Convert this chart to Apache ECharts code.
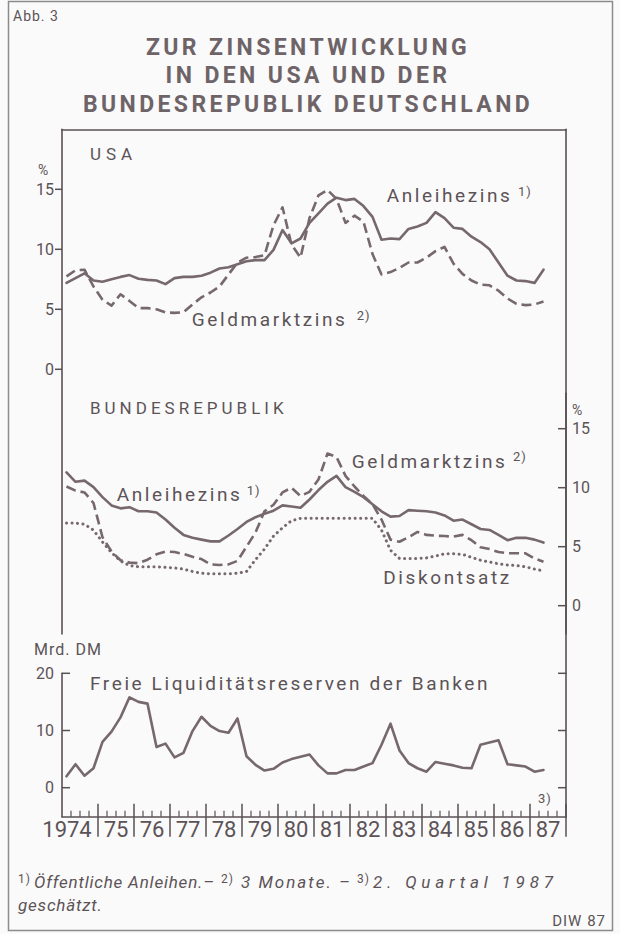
<!DOCTYPE html>
<html><head><meta charset="utf-8">
<script src="https://cdn.jsdelivr.net/npm/echarts@6/dist/echarts.min.js"></script>
<style>
html,body{margin:0;padding:0;background:#fafafa;}
#chart{width:620px;height:934px;}
#chart text[style*="xlsa"],#chart text[font-family*="xlsa"]{letter-spacing:1px;}
#chart text[style*="xlsb"],#chart text[font-family*="xlsb"]{letter-spacing:2.6px;}
#chart text[style*="xlsc"],#chart text[font-family*="xlsc"]{letter-spacing:4px;}
#chart text[style*="xlsd"],#chart text[font-family*="xlsd"]{letter-spacing:5px;}
#chart text[style*="xlst"],#chart text[font-family*="xlst"]{letter-spacing:3.4px;}
#chart text[style*="xlse"],#chart text[font-family*="xlse"]{letter-spacing:0.8px;}
#chart text[style*="xlsf"],#chart text[font-family*="xlsf"]{letter-spacing:2px;}
#chart text[style*="xlsg"],#chart text[font-family*="xlsg"]{letter-spacing:4.8px;}
</style>
</head><body><div id="chart"></div>
<script>
// ---------- data (quarterly, 1974 Q1 – 1987 Q2) ----------
const years = ['1974','75','76','77','78','79','80','81','82','83','84','85','86','87'];
const usaBond = [7.2, 7.6, 8.0, 7.4, 7.3, 7.5, 7.7, 7.85, 7.55, 7.45, 7.4, 7.1, 7.6, 7.7, 7.7, 7.8, 8.05, 8.4, 8.5, 8.75, 9.0, 9.1, 9.1, 9.95, 11.6, 10.5, 10.9, 12.2, 13.0, 13.8, 14.3, 14.1, 14.2, 13.6, 12.7, 10.8, 10.9, 10.85, 11.7, 11.9, 12.2, 13.1, 12.6, 11.8, 11.7, 11.05, 10.6, 10.0, 8.9, 7.8, 7.4, 7.35, 7.2, 8.3];
const usaMoney = [7.75, 8.25, 8.3, 6.9, 5.8, 5.3, 6.25, 5.7, 5.1, 5.1, 5.0, 4.75, 4.7, 4.75, 5.4, 6.0, 6.4, 6.9, 7.9, 8.9, 9.3, 9.35, 9.5, 12.0, 13.5, 10.4, 9.3, 12.6, 14.5, 14.95, 14.2, 12.2, 12.8, 12.3, 9.6, 7.9, 8.1, 8.45, 8.9, 8.9, 9.3, 9.85, 10.2, 8.8, 7.95, 7.4, 7.05, 7.0, 6.55, 5.9, 5.45, 5.35, 5.4, 5.65];
const brdBond = [11.3, 10.5, 10.6, 10.05, 9.2, 8.5, 8.25, 8.35, 8.0, 8.0, 7.9, 7.3, 6.6, 6.0, 5.75, 5.6, 5.45, 5.45, 5.95, 6.5, 7.1, 7.5, 7.8, 8.05, 8.5, 8.4, 8.3, 9.0, 9.8, 10.5, 11.0, 10.05, 9.65, 9.2, 8.6, 8.0, 7.55, 7.6, 8.1, 8.05, 8.0, 7.9, 7.65, 7.2, 7.3, 6.9, 6.5, 6.42, 6.0, 5.55, 5.75, 5.75, 5.6, 5.35];
const brdMoney = [10.1, 9.75, 9.6, 8.7, 5.8, 4.6, 3.85, 3.65, 3.6, 3.9, 4.35, 4.58, 4.55, 4.38, 4.15, 3.95, 3.5, 3.45, 3.5, 3.8, 5.0, 6.2, 8.0, 8.55, 9.6, 10.0, 9.3, 9.65, 10.7, 12.9, 12.6, 11.0, 10.1, 9.3, 8.6, 7.3, 5.6, 5.42, 5.8, 6.25, 6.0, 5.93, 5.9, 5.85, 6.0, 5.55, 4.95, 4.8, 4.55, 4.44, 4.44, 4.44, 4.0, 3.73];
const brdDiscount = [7.0, 7.0, 6.9, 6.4, 5.4, 4.5, 3.8, 3.4, 3.3, 3.3, 3.3, 3.25, 3.2, 3.1, 2.9, 2.75, 2.7, 2.7, 2.7, 2.75, 2.9, 3.9, 4.8, 5.9, 6.6, 7.2, 7.4, 7.4, 7.4, 7.4, 7.4, 7.4, 7.4, 7.4, 7.4, 6.4, 4.7, 4.0, 4.0, 4.0, 4.05, 4.2, 4.4, 4.4, 4.35, 4.1, 3.85, 3.7, 3.55, 3.45, 3.4, 3.3, 3.1, 2.95];
const liquidity = [2.0, 4.1, 2.1, 3.4, 8.0, 9.8, 12.3, 15.8, 15.0, 14.7, 7.1, 7.7, 5.3, 6.1, 9.9, 12.4, 10.8, 9.9, 9.6, 12.1, 5.5, 4.0, 3.0, 3.3, 4.4, 5.0, 5.4, 5.8, 3.9, 2.5, 2.5, 3.1, 3.1, 3.7, 4.3, 7.5, 11.2, 6.5, 4.3, 3.4, 2.8, 4.5, 4.2, 3.9, 3.5, 3.4, 7.5, 7.9, 8.3, 4.1, 3.9, 3.7, 2.8, 3.1];
const usaTicks = [0, 5, 10, 15];
const brdTicks = [0, 5, 10, 15];
const liqTicks = [0, 10, 20];

// quarter categories (4 per year)
const quarters = [];
years.forEach(function (y, i) { for (let q = 1; q <= 4; q++) quarters.push((1974 + i) + '/' + q); });

// ---------- layout & styles ----------
const LINE = '#76686d', AXIS = '#5a5155', TEXT = '#5c5357', TITLE = '#6e6468';
const F = 'Roboto';
const USA_RANGE = [-22.06, 20], BRD_RANGE = [-5.73, 18], LIQ_RANGE = [-5.07, 20];
const GRIDS = [
  { left: 62, right: 54, top: 129.3, height: 504.7 },   // USA
  { left: 62, right: 54, top: 393.3, height: 280 },     // Bundesrepublik
  { left: 62, right: 54, top: 673.3, height: 143.4 }    // Liquidität
];
const PLOT_W = 620 - 62 - 54;
function fam(cls) { return cls ? F + ', ' + cls : F; }
function txt(t, x, y, size, cls, extra) {
  return { type: 'text', x: x, y: y, silent: true,
    style: Object.assign({ text: t, fill: TEXT, fontSize: size, fontFamily: fam(cls),
      textAlign: 'left', textVerticalAlign: 'middle', verticalAlign: 'middle' }, extra || {}) };
}
const axLine = { show: true, onZero: false, lineStyle: { color: AXIS, width: 1.6 } };
const labelBase = { color: TEXT, fontSize: 16, fontFamily: F };
const hidden = { show: false };

const solid = { color: LINE, width: 2.6, join: 'round', cap: 'round' };
const dashed = { color: LINE, width: 2.6, type: [10, 5], join: 'round' };
const dotted = { color: LINE, width: 3, type: [0.1, 5.4], cap: 'round', join: 'round' };
function line(name, data, xi, yi, ls) {
  return { name: name, type: 'line', data: data, xAxisIndex: xi, yAxisIndex: yi,
    showSymbol: false, symbol: 'none', silent: true, lineStyle: ls, z: 3 };
}

const chart = echarts.init(document.getElementById('chart'), null, { renderer: 'svg' });
chart.setOption({
  animation: false,
  backgroundColor: '#fafafa',
  grid: GRIDS,
  xAxis: [
    { gridIndex: 0, type: 'category', data: quarters, position: 'top', boundaryGap: true,
      axisLine: axLine, axisTick: hidden, axisLabel: hidden, splitLine: hidden },
    { gridIndex: 1, type: 'category', data: quarters, boundaryGap: true, show: false },
    { gridIndex: 2, type: 'category', data: quarters, position: 'bottom', boundaryGap: true,
      axisLine: axLine, axisTick: hidden, axisLabel: hidden, splitLine: hidden },
    { gridIndex: 2, type: 'category', data: years, position: 'bottom', boundaryGap: true,
      axisLine: { show: false, onZero: false }, axisTick: hidden, splitLine: hidden,
      axisLabel: { show: true, interval: 0, margin: 2, color: TEXT, fontSize: 22, fontFamily: F,
        formatter: function (v, i) { return i === 0 ? '{a|' + v + '}' : v; },
        rich: { a: { padding: [0, 26, 0, 0], color: TEXT, fontSize: 22, fontFamily: F } } } }
  ],
  yAxis: [
    { gridIndex: 0, type: 'value', position: 'left', min: USA_RANGE[0], max: USA_RANGE[1], splitLine: hidden,
      axisLine: axLine, axisTick: hidden,
      axisLabel: Object.assign({ customValues: usaTicks, margin: 8 }, labelBase) },
    { gridIndex: 0, type: 'value', position: 'right', min: USA_RANGE[0], max: USA_RANGE[1], splitLine: hidden,
      axisLine: axLine, axisTick: hidden, axisLabel: hidden },
    { gridIndex: 1, type: 'value', position: 'right', min: BRD_RANGE[0], max: BRD_RANGE[1], splitLine: hidden,
      axisLine: axLine, axisTick: hidden,
      axisLabel: Object.assign({ customValues: brdTicks, margin: 6 }, labelBase) },
    { gridIndex: 2, type: 'value', position: 'left', min: LIQ_RANGE[0], max: LIQ_RANGE[1], splitLine: hidden,
      axisLine: axLine, axisTick: hidden,
      axisLabel: Object.assign({ customValues: liqTicks, margin: 8 }, labelBase) },
    { gridIndex: 2, type: 'value', position: 'right', min: LIQ_RANGE[0], max: LIQ_RANGE[1], splitLine: hidden,
      axisLine: axLine, axisTick: hidden, axisLabel: hidden }
  ],
  series: [
    line('USA Anleihezins', usaBond, 0, 0, solid),
    line('USA Geldmarktzins', usaMoney, 0, 0, dashed),
    line('BRD Anleihezins', brdBond, 1, 2, solid),
    line('BRD Geldmarktzins', brdMoney, 1, 2, dashed),
    line('BRD Diskontsatz', brdDiscount, 1, 2, dotted),
    line('Freie Liquiditätsreserven', liquidity, 2, 3, solid)
  ]
});

// ---------- tick marks (axis scale first, grid layout as fallback) ----------
function num(v) { return typeof v === 'number' && isFinite(v); }
function yPix(axisIndex, v, g, range) {
  let c;
  try { c = chart.convertToPixel({ yAxisIndex: axisIndex }, v); } catch (e) { c = NaN; }
  return num(c) ? c : g.top + g.height * (range[1] - v) / (range[1] - range[0]);
}
const qW = PLOT_W / quarters.length;
function xBound(k) {   // left boundary of quarter k (k may equal quarters.length)
  let c;
  try { c = chart.convertToPixel({ xAxisIndex: 2 }, Math.min(k, quarters.length - 1)); } catch (e) { c = NaN; }
  if (num(c)) return k >= quarters.length ? c + qW / 2 : c - qW / 2;
  return GRIDS[2].left + k * qW;
}
const leftX = xBound(0), rightX = xBound(quarters.length);
const axisY = yPix(3, LIQ_RANGE[0], GRIDS[2], LIQ_RANGE);

const ticks = [];
function seg(x1, y1, x2, y2, w) {
  if (![x1, y1, x2, y2].every(num)) return;
  ticks.push({ type: 'line', silent: true, z: 10,
    shape: { x1: x1, y1: y1, x2: x2, y2: y2 }, style: { stroke: AXIS, lineWidth: w } });
}
years.forEach(function (y, i) {               // year separators at the end of each year
  const x = xBound((i + 1) * 4);
  seg(x, axisY - 13, x, axisY + 20, 1.5);
});
quarters.forEach(function (q, k) {            // quarter ticks
  if (k === 0 || k % 4 === 0) return;
  const x = xBound(k);
  seg(x, axisY - 6, x, axisY, 1.2);
});
usaTicks.forEach(function (v) { const y = yPix(0, v, GRIDS[0], USA_RANGE); seg(leftX - 7, y, leftX, y, 1.5); });
brdTicks.forEach(function (v) { const y = yPix(2, v, GRIDS[1], BRD_RANGE); seg(rightX - 8, y, rightX, y, 1.5); });
liqTicks.forEach(function (v) {
  const y = yPix(3, v, GRIDS[2], LIQ_RANGE);
  seg(leftX, y, leftX + 8, y, 1.5);
  seg(rightX - 8, y, rightX, y, 1.5);
});

const texts = [
  { type: 'rect', silent: true, shape: { x: 8.5, y: 1.5, width: 604, height: 929 },
    style: { fill: 'none', stroke: '#8c8c8c', lineWidth: 1.5 } },
  txt('Abb. 3', 13, 16, 14, 'xlsa'),
  txt('ZUR ZINSENTWICKLUNG', 308, 47.5, 23, 'xlst', { textAlign: 'center', fontWeight: 'bold', fill: TITLE }),
  txt('IN DEN USA UND DER', 308, 75.8, 23, 'xlst', { textAlign: 'center', fontWeight: 'bold', fill: TITLE }),
  txt('BUNDESREPUBLIK DEUTSCHLAND', 308, 104.2, 23, 'xlst', { textAlign: 'center', fontWeight: 'bold', fill: TITLE }),
  txt('USA', 90, 154, 17, 'xlsd'),
  txt('%', 38, 170, 14),
  txt('Anleihezins', 386.7, 195, 19, 'xlsb'),
  txt('1)', 518, 191, 13, 'xlsa'),
  txt('Geldmarktzins', 191.7, 319, 19, 'xlsb'),
  txt('2)', 356.7, 315, 13, 'xlsa'),
  txt('BUNDESREPUBLIK', 90, 408, 17, 'xlsc'),
  txt('%', 572, 410, 14),
  txt('Geldmarktzins', 351.7, 461, 19, 'xlsb'),
  txt('2)', 513, 456.7, 13, 'xlsa'),
  txt('Anleihezins', 116.7, 494, 19, 'xlsb'),
  txt('1)', 246.7, 490, 13, 'xlsa'),
  txt('Diskontsatz', 383.3, 577, 19, 'xlsb'),
  txt('Mrd. DM', 34, 649, 16, 'xlsa'),
  txt('Freie Liquiditätsreserven der Banken', 90, 683, 19, 'xlsb'),
  txt('3)', 538, 798, 13, 'xlsa'),
  txt('1)', 18, 879, 12, 'xlsa'),
  txt('Öffentliche Anleihen.–', 34, 882, 17, 'xlse', { fontStyle: 'italic' }),
  txt('2)', 221, 879, 12, 'xlsa'),
  txt('3 Monate. –', 241, 882, 17, 'xlsf', { fontStyle: 'italic' }),
  txt('3)', 357, 879, 12, 'xlsa'),
  txt('2. Quartal 1987', 373, 882, 17, 'xlsg', { fontStyle: 'italic' }),
  txt('geschätzt.', 18, 905, 17, 'xlse', { fontStyle: 'italic' }),
  txt('DIW 87', 606, 921, 15, 'xlsa', { textAlign: 'right' })
];
chart.setOption({ graphic: texts.concat(ticks) });
</script></body></html>
